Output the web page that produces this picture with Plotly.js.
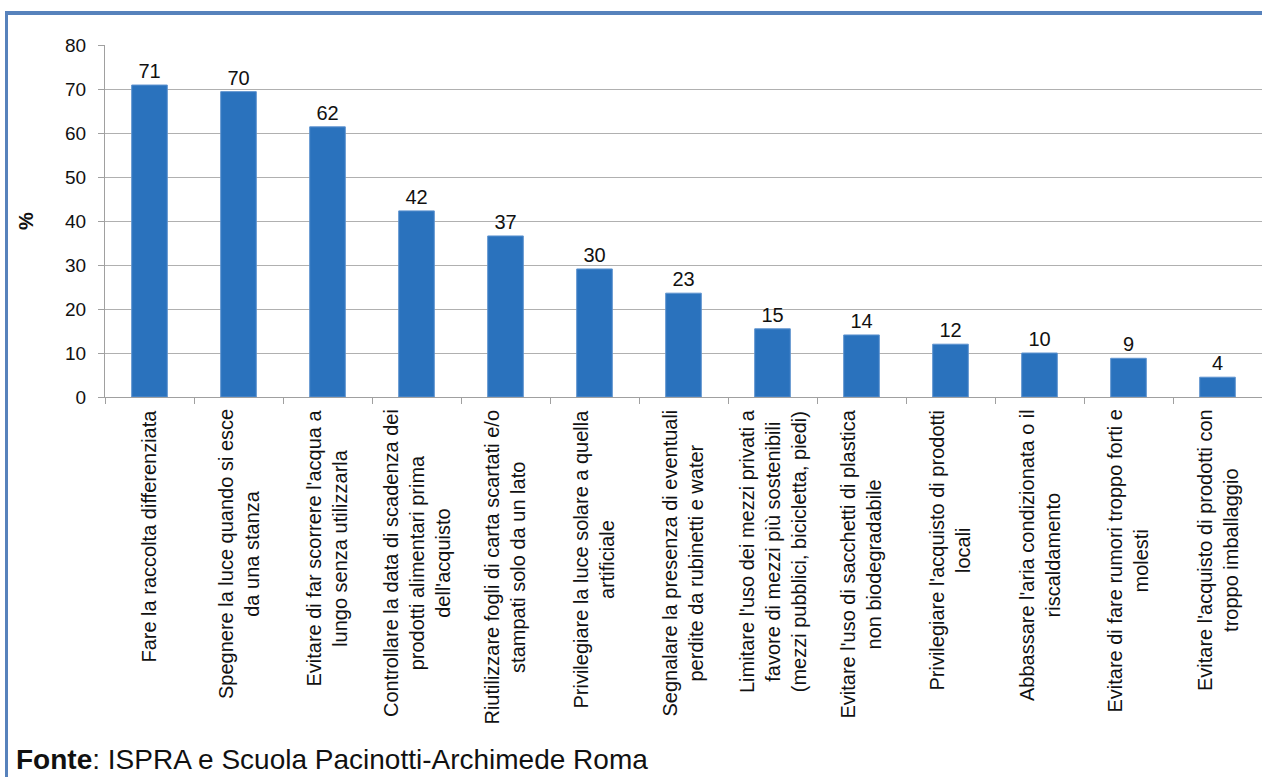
<!DOCTYPE html>
<html>
<head>
<meta charset="utf-8">
<script src="https://cdn.plot.ly/plotly-3.0.1.min.js"></script>
<style>
  html, body { margin: 0; padding: 0; background: #ffffff; }
  #chart { width: 1262px; height: 777px; position: relative; }
  #frame { position: absolute; left: 5px; top: 11px; width: 1257px; height: 766px;
           border-top: 4px solid #5782BC; border-left: 3px solid #5782BC;
           box-sizing: border-box; pointer-events: none; }
</style>
</head>
<body>
<div id="chart"></div>
<div id="frame"></div>
<script>
const categories = [
  "Fare la raccolta differenziata",
  "Spegnere la luce quando si esce<br>da una stanza",
  "Evitare di far scorrere l'acqua a<br>lungo senza utilizzarla",
  "Controllare la data di scadenza dei<br>prodotti alimentari prima<br>dell'acquisto",
  "Riutilizzare fogli di carta scartati e/o<br>stampati solo da un lato",
  "Privilegiare la luce solare a quella<br>artificiale",
  "Segnalare la presenza di eventuali<br>perdite da rubinetti e water",
  "Limitare l'uso dei mezzi privati a<br>favore di mezzi più sostenibili<br>(mezzi pubblici, bicicletta, piedi)",
  "Evitare l'uso di sacchetti di plastica<br>non biodegradabile",
  "Privilegiare l'acquisto di prodotti<br>locali",
  "Abbassare l'aria condizionata o il<br>riscaldamento",
  "Evitare di fare rumori troppo forti e<br>molesti",
  "Evitare l'acquisto di prodotti con<br>troppo imballaggio"
];
const values = [70.9, 69.4, 61.4, 42.3, 36.6, 29.1, 23.6, 15.5, 14.1, 12.0, 10.0, 8.8, 4.5];
const valueLabels = ["71", "70", "62", "42", "37", "30", "23", "15", "14", "12", "10", "9", "4"];
const yTickValues = [0, 10, 20, 30, 40, 50, 60, 70, 80];
const yAxisTitle = "%";
const sourceNote = "<b>Fonte</b>: ISPRA e Scuola Pacinotti-Archimede Roma";

const FONT = "Liberation Sans, Arial, sans-serif";

const trace = {
  type: "bar",
  x: categories,
  y: values,
  text: valueLabels,
  texttemplate: "%{text}",
  textposition: "outside",
  cliponaxis: false,
  constraintext: "none",
  textfont: { family: FONT, size: 20, color: "#111111" },
  marker: { color: "#2A72BD", line: { color: "#5E93CF", width: 1 } },
  hoverinfo: "x+y"
};

const annotations = categories.map(function (c) {
  return {
    x: c, xref: "x",
    y: -0.03, yref: "paper",
    text: c,
    textangle: -90,
    showarrow: false,
    xanchor: "center",
    yanchor: "top",
    align: "center",
    font: { family: FONT, size: 20, color: "#111111" }
  };
});

annotations.push({
  x: -0.079, xref: "paper",
  y: -1.0795, yref: "paper",
  text: sourceNote,
  showarrow: false,
  xanchor: "left",
  yanchor: "bottom",
  align: "left",
  font: { family: FONT, size: 28, color: "#111111" }
});

const layout = {
  width: 1262,
  height: 777,
  margin: { l: 105, r: 0, t: 45, b: 380, pad: 0 },
  paper_bgcolor: "#ffffff",
  plot_bgcolor: "#ffffff",
  showlegend: false,
  bargap: 0.6,
  font: { family: FONT, size: 17, color: "#111111" },
  xaxis: {
    type: "category",
    showticklabels: false,
    ticks: "outside",
    tickson: "boundaries",
    ticklen: 6,
    tickcolor: "#a0a0a0",
    tickwidth: 1,
    showline: true,
    linecolor: "#a0a0a0",
    linewidth: 1,
    showgrid: false,
    zeroline: false,
    fixedrange: true
  },
  yaxis: {
    range: [0, 80],
    tickvals: yTickValues,
    ticktext: yTickValues.map(String),
    ticks: "outside",
    ticklen: 6,
    tickcolor: "#a0a0a0",
    ticklabelstandoff: 8,
    tickfont: { family: FONT, size: 19, color: "#111111" },
    showline: true,
    linecolor: "#a0a0a0",
    linewidth: 1,
    showgrid: true,
    gridcolor: "#b0b0b0",
    gridwidth: 1,
    zeroline: false,
    automargin: false,
    fixedrange: true,
    title: { text: yAxisTitle, font: { family: FONT, size: 20, color: "#111111", weight: "bold" }, standoff: 26 }
  },
  annotations: annotations
};

Plotly.newPlot("chart", [trace], layout, { displayModeBar: false, staticPlot: true });
</script>
</body>
</html>
